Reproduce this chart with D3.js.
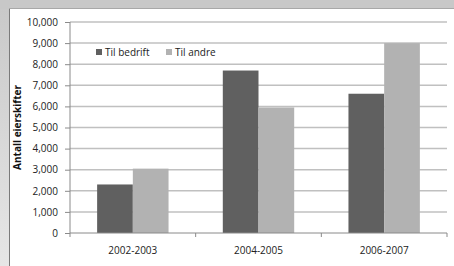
<!DOCTYPE html>
<html>
<head>
<meta charset="utf-8">
<script src="https://cdn.jsdelivr.net/npm/d3@7"></script>
<style>
  body { margin: 0; background: #fff; }
  text { font-family: "Open Sans", "Liberation Sans", sans-serif; }
</style>
</head>
<body>
<div id="chart"></div>
<script>
// data
var periods = ["2002-2003", "2004-2005", "2006-2007"];
var seriesNames = ["Til bedrift", "Til andre"];
var tilBedrift = [2300, 7700, 6600];
var tilAndre = [3050, 5950, 9000];
var yTicks = [0, 1000, 2000, 3000, 4000, 5000, 6000, 7000, 8000, 9000, 10000];
var seriesColors = ["#606060", "#b2b2b2"];

var W = 454, H = 266,
	margin = { top: 22, right: 7, bottom: 33, left: 70 },
	width = W - margin.left - margin.right,
	height = H - margin.top - margin.bottom;

var svg = d3.select("#chart").append("svg")
	.attr("width", W)
	.attr("height", H);

// frame around the chart (gray window bands)
var defs = svg.append("defs");
var grad = defs.append("linearGradient")
	.attr("id", "leftBand")
	.attr("x1", 0).attr("y1", 0).attr("x2", 0).attr("y2", 1);
grad.append("stop").attr("offset", "0%").attr("stop-color", "#c8c8c8");
grad.append("stop").attr("offset", "100%").attr("stop-color", "#e6e6e6");

svg.append("rect").attr("x", 0).attr("y", 0).attr("width", 9).attr("height", H)
	.attr("fill", "url(#leftBand)");
svg.append("rect").attr("x", 0).attr("y", 0).attr("width", W).attr("height", 9)
	.attr("fill", "#c8c8c8");
svg.append("line").attr("x1", 9).attr("x2", W).attr("y1", 8.5).attr("y2", 8.5)
	.attr("stroke", "#a8a8a8");
svg.append("line").attr("x1", 9.5).attr("x2", 9.5).attr("y1", 9).attr("y2", H)
	.attr("stroke", "#7a7a7a");

var g = svg.append("g")
	.attr("transform", "translate(" + margin.left + "," + margin.top + ")");

var x0 = d3.scaleBand().domain(periods).range([0, width]).paddingInner(0).paddingOuter(0);
var x1 = d3.scaleBand().domain(seriesNames).range([0, 71.4]);
var y = d3.scaleLinear().domain([0, 10000]).range([height, 0]);

// gridlines
g.append("g")
	.selectAll("line")
	.data(yTicks.filter(function(d) { return d > 0; }))
	.enter().append("line")
	.attr("x1", 0).attr("x2", width)
	.attr("y1", function(d) { return y(d); })
	.attr("y2", function(d) { return y(d); })
	.attr("stroke", "#c0c0c0")
	.attr("stroke-width", 1.5);

// bars
var rows = periods.map(function(p, i) {
	return { period: p, values: [tilBedrift[i], tilAndre[i]] };
});
var groups = g.selectAll(".grp")
	.data(rows)
	.enter().append("g")
	.attr("class", "grp")
	.attr("transform", function(d) {
		return "translate(" + (x0(d.period) + (x0.bandwidth() - 71.4) / 2) + ",0)";
	});
groups.selectAll("rect")
	.data(function(d) { return d.values.map(function(v, i) { return { key: seriesNames[i], value: v, i: i }; }); })
	.enter().append("rect")
	.attr("x", function(d) { return x1(d.key); })
	.attr("width", x1.bandwidth())
	.attr("y", function(d) { return y(d.value); })
	.attr("height", function(d) { return height - y(d.value); })
	.attr("fill", function(d) { return seriesColors[d.i]; });

// y axis
var yAxis = d3.axisLeft(y).tickValues(yTicks).tickSize(5).tickPadding(7)
	.tickFormat(d3.format(","));
var ya = g.append("g").call(yAxis);
ya.select(".domain").attr("stroke", "#8a8a8a").attr("d", "M0," + height + "V0");
ya.selectAll(".tick line").attr("stroke", "#8a8a8a");
ya.selectAll("text").attr("font-size", 10).attr("fill", "#222");

// x axis
var xAxis = d3.axisBottom(x0).tickSize(0).tickPadding(14);
var xa = g.append("g").attr("transform", "translate(0," + height + ")").call(xAxis);
xa.select(".domain").attr("stroke", "#8a8a8a").attr("d", "M0,0H" + width);
xa.selectAll("text").attr("font-size", 10).attr("fill", "#222");
// category separators
xa.selectAll(".sep")
	.data(periods.map(function(p) { return x0(p); }).concat([width]))
	.enter().append("line")
	.attr("x1", function(d) { return d; })
	.attr("x2", function(d) { return d; })
	.attr("y1", 0).attr("y2", 4)
	.attr("stroke", "#8a8a8a");

// y axis title
svg.append("text")
	.attr("transform", "translate(21," + (margin.top + height / 2) + ") rotate(-90)")
	.attr("text-anchor", "middle")
	.attr("font-size", 10)
	.attr("font-weight", "bold")
	.attr("fill", "#111")
	.text("Antall eierskifter");

// legend
var legendX = [96, 166];
var legend = svg.selectAll(".legend")
	.data(seriesNames)
	.enter().append("g")
	.attr("class", "legend")
	.attr("transform", function(d, i) { return "translate(" + legendX[i] + ",49)"; });
legend.append("rect")
	.attr("width", 6).attr("height", 6)
	.attr("fill", function(d, i) { return seriesColors[i]; });
legend.append("text")
	.attr("x", 9).attr("y", 7)
	.attr("font-size", 10)
	.attr("fill", "#222")
	.text(function(d) { return d; });
</script>
</body>
</html>
